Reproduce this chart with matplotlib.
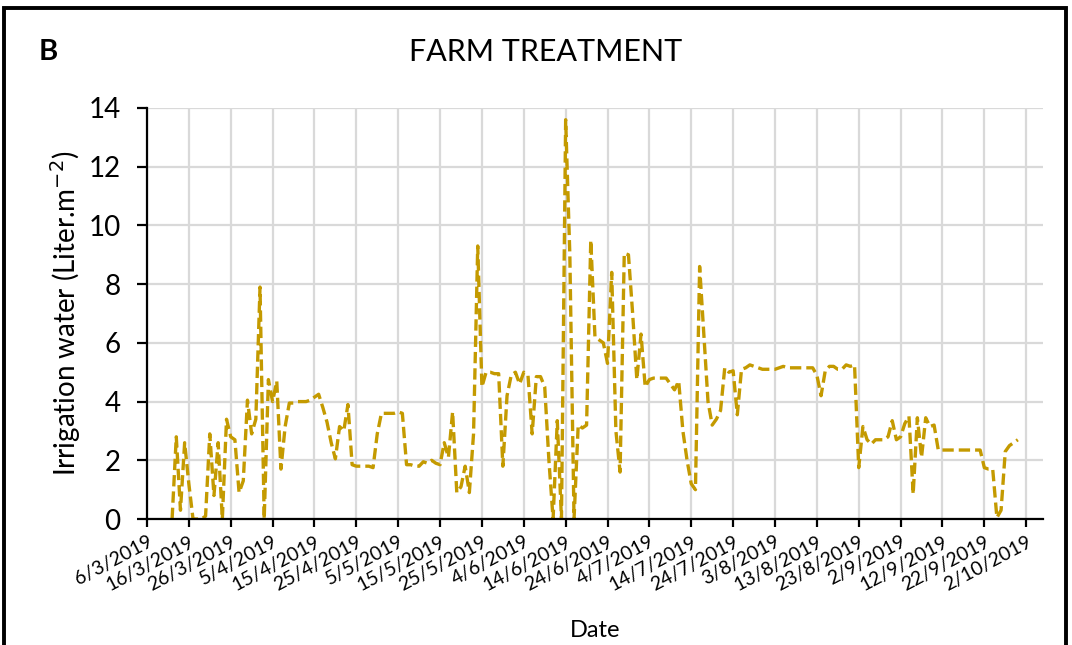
import matplotlib
matplotlib.use('Agg')
import matplotlib.pyplot as plt
import numpy as np
import pandas as pd
from matplotlib.patches import Rectangle

# days counted from 6 March 2019
days = list(range(6, 209))
water = [
    0, 2.8, 0.3, 2.6, 1.2, 0, 0, 0, 0.1, 2.9,
    0.8, 2.6, 0, 3.4, 2.8, 2.7, 0.9, 1.3, 4.05, 2.9,
    3.4, 7.9, 0, 4.75, 4.0, 4.7, 1.7, 3.15, 3.95, 3.95,
    4.0, 4.0, 4.0, 4.05, 4.15, 4.25, 3.8, 3.3, 2.6, 2.05,
    3.15, 3.0, 3.9, 1.85, 1.8, 1.8, 1.8, 1.8, 1.75, 2.9,
    3.6, 3.6, 3.6, 3.6, 3.65, 3.6, 1.85, 1.85, 1.8, 1.8,
    1.95, 1.9, 2.0, 1.9, 1.85, 2.6, 2.1, 3.65, 0.9, 1.1,
    1.8, 0.9, 2.9, 9.3, 4.5, 5.0, 5.0, 4.95, 4.95, 1.8,
    4.2, 4.9, 5.0, 4.6, 5.0, 4.9, 2.9, 4.85, 4.85, 4.5,
    2.0, 0, 3.35, 0, 13.6, 9.0, 0, 3.2, 3.1, 3.2,
    9.5, 6.2, 6.1, 6.0, 5.3, 8.4, 3.0, 1.6, 9.05, 9.0,
    7.0, 4.75, 6.3, 4.5, 4.75, 4.8, 4.8, 4.8, 4.8, 4.6,
    4.4, 4.7, 3.0, 2.0, 1.2, 1.0, 8.6, 6.3, 4.0, 3.2,
    3.4, 3.7, 5.15, 5.0, 5.05, 3.55, 5.1, 5.15, 5.25, 5.2,
    5.15, 5.1, 5.1, 5.1, 5.1, 5.15, 5.2, 5.15, 5.15, 5.15,
    5.15, 5.15, 5.15, 5.15, 4.9, 4.2, 5.05, 5.2, 5.2, 5.1,
    5.1, 5.25, 5.2, 5.25, 1.75, 3.15, 2.7, 2.55, 2.7, 2.7,
    2.7, 2.8, 3.35, 2.7, 2.8, 3.25, 3.5, 0.85, 3.45, 2.1,
    3.45, 3.15, 3.2, 2.35, 2.35, 2.35, 2.35, 2.35, 2.35, 2.35,
    2.35, 2.35, 2.35, 2.35, 1.75, 1.7, 1.7, 0.05, 0.3, 2.3,
    2.5, 2.6, 2.7,
]
start = pd.Timestamp('2019-03-06')
tick_dates = pd.date_range(start, '2019-10-02', freq='10D')
y_ticks = [0, 2, 4, 6, 8, 10, 12, 14]

dates = start + pd.to_timedelta(days, unit='D')

plt.rcParams['font.family'] = ['Lato', 'DejaVu Sans']

fig = plt.figure(figsize=(10.72, 6.45), dpi=100)
ax = fig.add_axes([0.1371, 0.1953, 0.8358, 0.6373])

ax.plot(dates, water, color='#C49A00', lw=2.4, linestyle=(0, (3.4, 1.5)))

ax.set_xlim(start, start + pd.Timedelta(days=214))
ax.set_ylim(0, 14)
ax.set_yticks(y_ticks)
ax.set_xticks(tick_dates)
ax.set_xticklabels([f'{d.day}/{d.month}/{d.year}' for d in tick_dates],
                   rotation=28, ha='right', rotation_mode='anchor', fontsize=14)
ax.tick_params(axis='y', labelsize=20, length=7, width=1.6, direction='out', pad=12)
ax.tick_params(axis='x', length=6, width=1.6, direction='out', pad=4)

ax.grid(True, color='#d9d9d9', lw=1.6)
ax.set_axisbelow(True)
for side in ['top', 'right']:
    ax.spines[side].set_visible(False)
for side in ['left', 'bottom']:
    ax.spines[side].set_linewidth(1.6)
    ax.spines[side].set_color('black')

ax.set_ylabel('Irrigation water (Liter.m$^{-2}$)', fontsize=20, labelpad=4)
fig.text(0.555, 0.023, 'Date', ha='center', va='center', fontsize=17)

fig.text(0.509, 0.919, 'FARM TREATMENT', ha='center', va='center', fontsize=22)
fig.text(0.045, 0.919, 'B', ha='center', va='center', fontsize=21, fontweight='bold')

fig.patches.append(Rectangle((0.004, -0.1), 0.99, 1.087, transform=fig.transFigure,
                             fill=False, edgecolor='black', lw=2.8))

fig.savefig('out.png', dpi=100)
